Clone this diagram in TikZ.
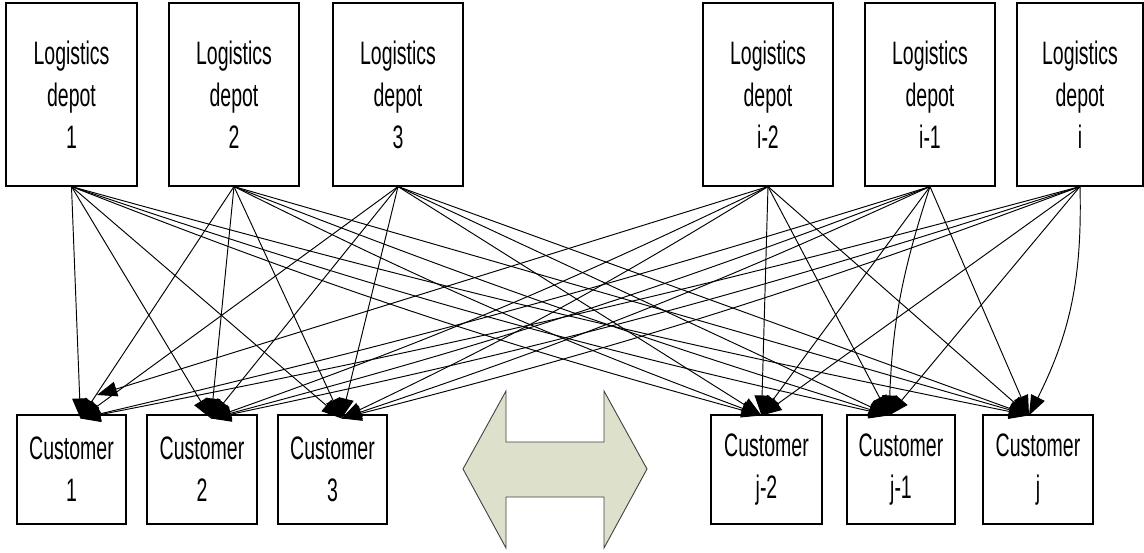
\documentclass[tikz,border=0pt]{standalone}
\usepackage{fontspec}
\setmainfont{Liberation Sans}[FakeStretch=0.6]
\usetikzlibrary{arrows.meta,calc}
\begin{document}
\begin{tikzpicture}[x=1pt,y=-1pt,
  box/.style={draw=black,line width=1.1pt,fill=white,inner sep=0pt,align=center,font=\fontsize{32.5}{42}\selectfont},
  depot/.style={box,minimum width=130pt,minimum height=183pt},
  cust/.style={box,minimum width=109pt,minimum height=109pt},
  link/.style={line width=0.95pt,-{Triangle[length=20pt,width=15pt]}},
  dblarrow/.style={draw=black!75,line width=0.9pt,fill={rgb,255:red,221;green,225;blue,204}}
]
\useasboundingbox (0,0) rectangle (1144,552);

% depots
\node[depot,minimum width=131pt] (d1) at (71.5,94.5) {Logistics\\depot\\1};
\node[depot] (d2) at (234,94.5) {Logistics\\depot\\2};
\node[depot] (d3) at (398,94.5) {Logistics\\depot\\3};
\node[depot] (d4) at (768,94.5) {Logistics\\depot\\i-2};
\node[depot] (d5) at (930,94.5) {Logistics\\depot\\i-1};
\node[depot,minimum width=126pt] (d6) at (1080,94.5) {Logistics\\depot\\i};

% customers
\node[cust] (c1) at (71.5,469.5) {Customer\\1};
\node[cust,minimum width=110pt] (c2) at (202,469.5) {Customer\\2};
\node[cust] (c3) at (332.5,469.5) {Customer\\3};
\node[cust,minimum width=111pt] (c4) at (766.5,469.5) {Customer\\j-2};
\node[cust,minimum width=108pt] (c5) at (901,469.5) {Customer\\j-1};
\node[cust,minimum width=110pt] (c6) at (1038,469.5) {Customer\\j};

% arrow tips
\coordinate (t1) at ($(c1.north)+(9,4)$);
\coordinate (t2) at ($(c2.north)+(9,4)$);
\coordinate (t3) at ($(c3.north)+(9,4)$);
\coordinate (t4) at ($(c4.north)+(-5,1)$);
\coordinate (t5) at ($(c5.north)+(-12,1)$);
\coordinate (t6) at ($(c6.north)+(-9,1)$);
\coordinate (s1) at (97,395);

% connectors
\draw[link] (d1.south) -- (t1);
\draw[link] (d1.south) -- (t2);
\draw[link] (d1.south) -- (t3);
\draw[link] (d1.south) to[bend right=3] (t4);
\draw[link] (d1.south) to[bend right=3] (t5);
\draw[link] (d1.south) to[bend right=2] (t6);

\draw[link] (d2.south) -- (t1);
\draw[link] (d2.south) -- (t2);
\draw[link] (d2.south) -- (t3);
\draw[link] (d2.south) to[bend right=3] (t4);
\draw[link] (d2.south) to[bend right=2] (t5);
\draw[link] (d2.south) -- (t6);

\draw[link] (d3.south) -- (t1);
\draw[link] (d3.south) -- (t2);
\draw[link] (d3.south) -- (t3);
\draw[link] (d3.south) -- (t4);
\draw[link] (d3.south) -- (t5);
\draw[link] (d3.south) -- (t6);

\draw[link] (d4.south) -- (s1);
\draw[link] (d4.south) to[bend left=3] (t2);
\draw[link] (d4.south) to[bend left=3] (t3);
\draw[link] (d4.south) -- (t4);
\draw[link] (d4.south) -- (t5);
\draw[link] (d4.south) -- (t6);

\draw[link] (d5.south) to[bend left=2] (t1);
\draw[link] (d5.south) to[bend left=3] (t2);
\draw[link] (d5.south) to[bend left=3] (t3);
\draw[link] (d5.south) -- (t4);
\draw[link] (d5.south) to[bend right=8] (t5);
\draw[link] (d5.south) -- (t6);

\draw[link] (d6.south) to[bend left=2] (t1);
\draw[link] (d6.south) to[bend left=3] (t2);
\draw[link] (d6.south) to[bend left=3] (t3);
\draw[link] (d6.south) -- (t4);
\draw[link] (d6.south) -- (t5);
\draw[link] (d6.south) to[bend left=14] (t6);

% double-headed block arrow
\path[dblarrow] (463,469) -- (506,391) -- (506,442) -- (604,442) -- (604,391)
  -- (647,469) -- (604,548) -- (604,497) -- (506,497) -- (506,548) -- cycle;
\end{tikzpicture}
\end{document}
